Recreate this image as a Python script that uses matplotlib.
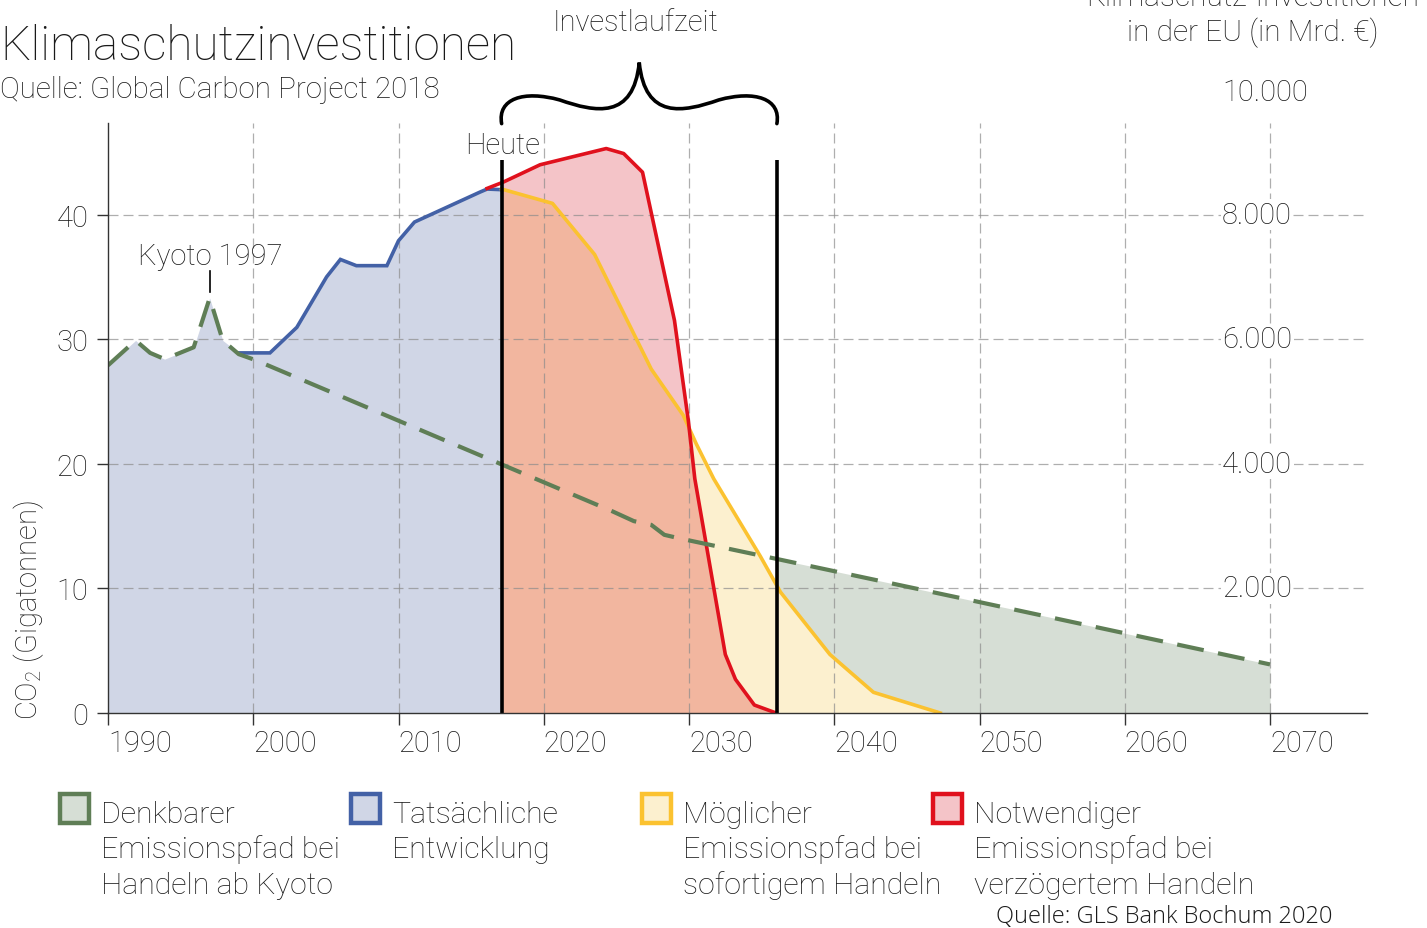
import numpy as np
import matplotlib
matplotlib.use("Agg")
import matplotlib.pyplot as plt
from matplotlib.patches import Rectangle, PathPatch
from matplotlib.path import Path

plt.rcParams['font.family'] = ['Roboto', 'DejaVu Sans']
plt.rcParams['font.weight'] = 'light'
plt.rcParams['mathtext.fontset'] = 'custom'
plt.rcParams['mathtext.rm'] = 'Roboto:light'

# ---------------- data ----------------
kyoto_years = [1990, 1991.9, 1992.9, 1993.9, 1995.9, 1997.0, 1997.9, 1999.0, 2000.2,
               2017.0, 2024.7, 2026.2, 2027.4, 2028.3, 2029.4, 2036.3, 2050.0, 2060.0, 2070.0]
kyoto_vals = [27.9, 29.9, 28.9, 28.4, 29.35, 33.3, 29.9, 28.8, 28.3,
              20.0, 16.2, 15.4, 15.1, 14.3, 14.0, 12.3, 8.9, 6.4, 3.9]

actual_years = [1990, 1991.9, 1992.9, 1993.9, 1995.9, 1997.0, 1997.9, 1999.0, 2001.15,
                2003.0, 2005.05, 2006.0, 2007.1, 2009.2, 2010.0, 2011.1, 2015.6, 2016.1, 2017.1]
actual_vals = [27.9, 29.9, 28.9, 28.4, 29.35, 33.3, 29.9, 28.9, 28.9,
               30.95, 35.0, 36.4, 35.9, 35.9, 37.9, 39.4, 41.8, 42.05, 42.0]

possible_years = [2017.1, 2020.6, 2023.5, 2027.4, 2029.6, 2030.5, 2031.7, 2034.9, 2036.3,
                  2039.7, 2042.7, 2047.3]
possible_vals = [42.05, 40.9, 36.8, 27.6, 23.9, 21.6, 18.8, 12.6, 9.7, 4.7, 1.66, 0.0]

necessary_years = [2016.1, 2017.2, 2019.75, 2024.3, 2025.5, 2026.8, 2029.0, 2029.95, 2030.4,
                   2032.5, 2033.2, 2034.5, 2036.0]
necessary_vals = [42.1, 42.6, 44.0, 45.3, 44.9, 43.4, 31.5, 23.5, 18.8, 4.7, 2.7, 0.64, 0.0]

today_year = 2017.1
end_year = 2036.05

x_ticks = [1990, 2000, 2010, 2020, 2030, 2040, 2050, 2060, 2070]
y_ticks = [0, 10, 20, 30, 40]
right_ticks = [2000, 4000, 6000, 8000, 9960]
right_labels = ['2.000', '4.000', '6.000', '8.000', '10.000']

legend_labels = ['Denkbarer\nEmissionspfad bei\nHandeln ab Kyoto',
                 'Tatsächliche\nEntwicklung',
                 'Möglicher\nEmissionspfad bei\nsofortigem Handeln',
                 'Notwendiger\nEmissionspfad bei\nverzögertem Handeln']

# ---------------- colours ----------------
c_green, c_green_f = '#5f7e56', '#d6ded5'
c_blue, c_blue_f = '#4361a6', '#d0d6e6'
c_yel, c_yel_f = '#fbc230', '#fcf0cf'
c_red, c_red_f = '#e0111d', '#f4c4c8'
c_overlap = '#f2b69f'
txt = '#1a1a1a'

FS = 21

W, H = 1427, 929
fig = plt.figure(figsize=(W / 100, H / 100), dpi=100)

L, R, B, T = 108, 1367, 714, 124
ax = fig.add_axes([L / W, 1 - B / H, (R - L) / W, (B - T) / H])
ymax = 47.35
ax.set_xlim(1990, 1990 + (R - L) / 14.525)
ax.set_ylim(0, ymax)

ky = np.array(kyoto_years); kv = np.array(kyoto_vals)
ay = np.array(actual_years); av = np.array(actual_vals)
py_ = np.array(possible_years); pv = np.array(possible_vals)
ny = np.array(necessary_years); nv = np.array(necessary_vals)

# fills
ax.fill_between(ay, av, 0, color=c_blue_f, lw=0, zorder=1)
g = np.linspace(end_year, 2070, 400)
ax.fill_between(g, np.interp(g, ky, kv), 0, color=c_green_f, lw=0, zorder=1)
ax.fill_between(py_, pv, 0, color=c_yel_f, lw=0, zorder=2)
g2 = np.linspace(today_year, end_year, 800)
rn = np.interp(g2, ny, nv)
ax.fill_between(g2, rn, 0, color=c_red_f, lw=0, zorder=2)
yp = np.interp(g2, py_, pv)
ax.fill_between(g2, np.minimum(rn, yp), 0, color=c_overlap, lw=0, zorder=3)

# grid
for yv in y_ticks[1:]:
    ax.axhline(yv, color='#8c8c8c', lw=0.9, ls=(0, (8, 4)), alpha=0.7, zorder=4)
for xv in x_ticks[1:]:
    ax.axvline(xv, color='#8c8c8c', lw=0.9, ls=(0, (8, 4)), alpha=0.7, zorder=4)

# lines
mask = ay >= 1999.0
ax.plot(ay[mask], av[mask], color=c_blue, lw=2.6, zorder=5, solid_joinstyle='miter')
ax.plot(py_, pv, color=c_yel, lw=2.6, zorder=5)
ax.plot(ny, nv, color=c_red, lw=2.6, zorder=6)
ax.plot(ky, kv, color=c_green, lw=3.0, ls=(0, (6.5, 3.5)), zorder=6)

# black lines
ax.plot([today_year, today_year], [0, 44.4], color='black', lw=2.6, zorder=8,
        solid_capstyle='butt')
ax.plot([end_year, end_year], [0, 44.4], color='black', lw=2.6, zorder=8,
        solid_capstyle='butt')

# axes styling
for s in ['top', 'right']:
    ax.spines[s].set_visible(False)
for s in ['left', 'bottom']:
    ax.spines[s].set_color('#333333')
    ax.spines[s].set_linewidth(1.0)
    ax.spines[s].set_zorder(9)
ax.set_xticks(x_ticks)
ax.set_xticklabels([str(x) for x in x_ticks])
ax.set_yticks(y_ticks)
ax.set_yticklabels([str(v) for v in y_ticks])
ax.tick_params(axis='x', direction='out', length=8.5, width=1.0, color='#333333',
               labelsize=FS, labelcolor=txt, pad=3)
ax.tick_params(axis='y', direction='out', length=8, width=1.0, color='#333333',
               labelsize=FS, labelcolor=txt, pad=6)
for lab in ax.get_xticklabels():
    lab.set_ha('left')
ax.patch.set_alpha(0)

# right-side labels
for v, lab in zip(right_ticks, right_labels):
    ax.text(2066.7, v / 200, lab, ha='left', va='center', fontsize=FS, color=txt,
            zorder=10, clip_on=False,
            bbox=dict(boxstyle='square,pad=0.05', fc='white', ec='none'))

# brace (data coords)
xm = (today_year + end_year) / 2
verts = [(today_year, 47.3),
         (today_year - 0.3, 49.3), (today_year + 1.5, 50.0), (today_year + 4.0, 49.2),
         (xm - 3.0, 48.2), (xm - 0.4, 47.6), (xm, 52.2),
         (xm + 0.4, 47.6), (xm + 3.0, 48.2), (end_year - 4.0, 49.2),
         (end_year - 1.5, 50.0), (end_year + 0.3, 49.3), (end_year, 47.3)]
codes = [Path.MOVETO] + [Path.CURVE4] * 12
ax.add_patch(PathPatch(Path(verts, codes), fc='none', ec='black', lw=2.6,
                       clip_on=False, zorder=10, capstyle='round'))

# ---------------- overlay for texts ----------------
ov = fig.add_axes([0, 0, 1, 1], zorder=20)
ov.set_xlim(0, W); ov.set_ylim(H, 0); ov.axis('off'); ov.patch.set_alpha(0)

ov.text(0, 60, 'Klimaschutzinvestitionen', fontsize=34.5, color=txt, va='baseline', ha='left')
ov.text(0, 98, 'Quelle: Global Carbon Project 2018', fontsize=21.3, color=txt,
        va='baseline', ha='left')
ov.text(636, 31, 'Investlaufzeit', fontsize=FS, color=txt, va='baseline', ha='center')
ov.text(503, 154, 'Heute', fontsize=FS, color=txt, va='baseline', ha='center')
ov.text(210, 265, 'Kyoto 1997', fontsize=FS, color=txt, va='baseline', ha='center')
ov.plot([210, 210], [272, 293], color='black', lw=1.2)
ov.text(1253, 6, 'Klimaschutz-Investitionen', fontsize=21.5, color=txt, va='baseline', ha='center')
ov.text(1253, 41, 'in der EU (in Mrd. €)', fontsize=21.5, color=txt, va='baseline', ha='center')
ov.text(29, 610, r'CO$_\mathregular{2}$ (Gigatonnen)', fontsize=FS, color=txt,
        rotation=90, ha='center', va='center')

leg_cols = [(c_green, c_green_f), (c_blue, c_blue_f), (c_yel, c_yel_f), (c_red, c_red_f)]
for i, (lab, (ec, fc)) in enumerate(zip(legend_labels, leg_cols)):
    x0 = 58 + i * 291
    ov.add_patch(Rectangle((x0 + 2, 795), 29, 29, fc=fc, ec=ec, lw=3.2))
    for j, line in enumerate(lab.split('\n')):
        ov.text(x0 + 43, 823 + j * 35.5, line, fontsize=21.8, color=txt,
                va='baseline', ha='left')

ov.text(996, 923, 'Quelle: GLS Bank Bochum 2020', fontsize=17, color=txt,
        family=['Open Sans', 'DejaVu Sans'], va='baseline', ha='left')

fig.savefig('out.png', dpi=100)
